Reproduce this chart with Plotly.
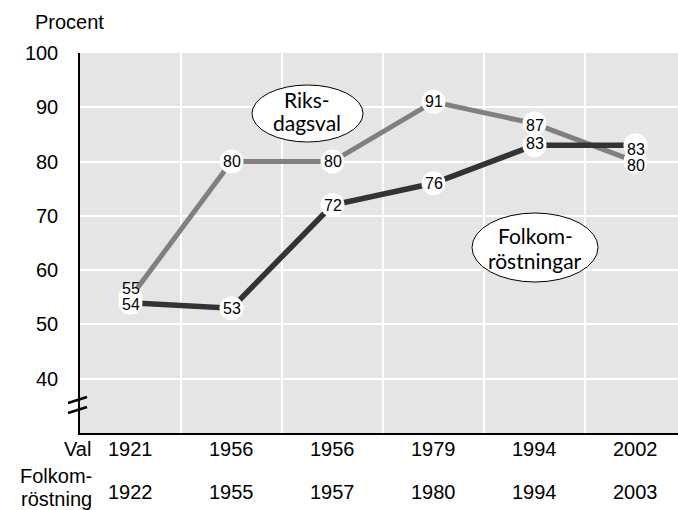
import plotly.graph_objects as go

# ---- data ----
val_years = ["1921", "1956", "1956", "1979", "1994", "2002"]
folk_years = ["1922", "1955", "1957", "1980", "1994", "2003"]
riksdagsval = [55, 80, 80, 91, 87, 80]
folkomrostningar = [54, 53, 72, 76, 83, 83]
y_ticks = [40, 50, 60, 70, 80, 90, 100]

# label nudges (style only, pixels)
riks_shift = [9, 0, 0, 0, -2, -4]
folk_shift = [-2, 0, 0, 0, 2, -4]

xs = list(range(len(val_years)))

GRAY = "#808080"
DARK = "#333333"
FONT = "Liberation Sans, Arial, sans-serif"

# plot area in pixels
L, R, T, B = 80, 678, 53, 433
W, H = 678, 510

fig = go.Figure()
fig.add_trace(go.Scatter(x=xs, y=riksdagsval, mode="lines",
                         line=dict(color=GRAY, width=5), hoverinfo="skip"))
fig.add_trace(go.Scatter(x=xs, y=folkomrostningar, mode="lines",
                         line=dict(color=DARK, width=5.5), hoverinfo="skip"))
fig.add_trace(go.Scatter(x=xs, y=riksdagsval, mode="markers",
                         marker=dict(color="white", size=24, line=dict(width=0)),
                         hoverinfo="skip"))
fig.add_trace(go.Scatter(x=xs, y=folkomrostningar, mode="markers",
                         marker=dict(color="white", size=24, line=dict(width=0)),
                         hoverinfo="skip"))

annotations = []
for x, v, s in zip(xs, riksdagsval, riks_shift):
    annotations.append(dict(x=x, y=v, xref="x", yref="y", text=str(v), showarrow=False,
                            yshift=s, borderpad=0,
                            font=dict(family=FONT, size=16, color="black")))
for x, v, s in zip(xs, folkomrostningar, folk_shift):
    annotations.append(dict(x=x, y=v, xref="x", yref="y", text=str(v), showarrow=False,
                            yshift=s, borderpad=0,
                            font=dict(family=FONT, size=16, color="black")))


def px_x(p):
    return (p - L) / (R - L)


def px_y(p):
    return (B - p) / (B - T)


# x labels rows
for x, a, b in zip(xs, val_years, folk_years):
    annotations.append(dict(x=x, y=px_y(449), xref="x", yref="paper", text=a, showarrow=False,
                            font=dict(family=FONT, size=20, color="black"), yanchor="middle"))
    annotations.append(dict(x=x, y=px_y(492), xref="x", yref="paper", text=b, showarrow=False,
                            font=dict(family=FONT, size=20, color="black"), yanchor="middle"))
annotations.append(dict(x=px_x(93), y=px_y(449), xref="paper", yref="paper", text="Val",
                        showarrow=False, xanchor="right", yanchor="middle",
                        font=dict(family=FONT, size=20, color="black")))
annotations.append(dict(x=px_x(93), y=px_y(476), xref="paper", yref="paper", text="Folkom-",
                        showarrow=False, xanchor="right", yanchor="middle", borderpad=0,
                        font=dict(family=FONT, size=20, color="black")))
annotations.append(dict(x=px_x(93), y=px_y(499), xref="paper", yref="paper", text="röstning",
                        showarrow=False, xanchor="right", yanchor="middle", borderpad=0,
                        font=dict(family=FONT, size=20, color="black")))
annotations.append(dict(x=px_x(33), y=px_y(22), xref="paper", yref="paper", text="Procent",
                        showarrow=False, xanchor="left", yanchor="middle",
                        font=dict(family=FONT, size=20, color="black")))

# ellipse labels
EFONT = "Lato, Open Sans, sans-serif"
for txt, cx, cy in [("Riks-", 307, 99), ("dagsval", 307, 122),
                    ("Folkom-", 535, 235), ("röstningar", 535, 260)]:
    annotations.append(dict(x=px_x(cx), y=px_y(cy), xref="paper", yref="paper", text=txt,
                            showarrow=False, xanchor="center", yanchor="middle", borderpad=0,
                            font=dict(family=EFONT, size=21, color="black")))

shapes = [
    dict(type="circle", xref="paper", yref="paper",
         x0=px_x(252), x1=px_x(363), y0=px_y(142), y1=px_y(85),
         fillcolor="white", line=dict(color="black", width=1), layer="above"),
    dict(type="circle", xref="paper", yref="paper",
         x0=px_x(472), x1=px_x(598), y0=px_y(282), y1=px_y(213),
         fillcolor="white", line=dict(color="black", width=1), layer="above"),
    # axis break marks
    dict(type="line", xref="paper", yref="paper", x0=px_x(68), x1=px_x(87),
         y0=px_y(403), y1=px_y(397), line=dict(color="black", width=2.5)),
    dict(type="line", xref="paper", yref="paper", x0=px_x(68), x1=px_x(87),
         y0=px_y(413), y1=px_y(407), line=dict(color="black", width=2.5)),
]

fig.update_layout(
    width=W, height=H,
    margin=dict(l=L, r=W - R, t=T, b=H - B, pad=0),
    paper_bgcolor="white", plot_bgcolor="#e5e5e5",
    showlegend=False,
    xaxis=dict(range=[-0.5, -0.5 + (R - L) / 101.0], tickvals=[0.5, 1.5, 2.5, 3.5, 4.5],
               showticklabels=False, showgrid=True, gridcolor="white", gridwidth=1.5,
               zeroline=False, showline=True, linecolor="black", linewidth=1.5, ticks=""),
    yaxis=dict(range=[30, 100], tickvals=y_ticks, showgrid=True, gridcolor="white",
               gridwidth=1.5, zeroline=False, showline=True, linecolor="black", linewidth=1.5,
               ticks="", ticklabelstandoff=16,
               tickfont=dict(family=FONT, size=20, color="black")),
    annotations=annotations,
    shapes=shapes,
)

fig.write_html("out.html", config={"displayModeBar": False},
               post_script="document.body.style.margin='0';document.body.style.overflow='hidden';")
